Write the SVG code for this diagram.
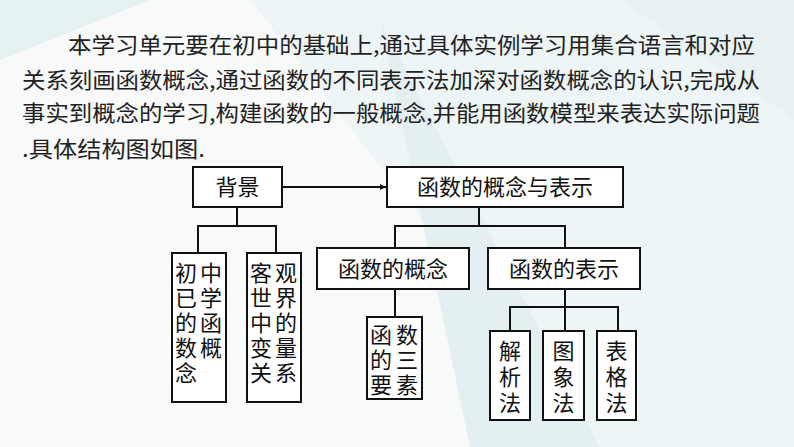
<svg xmlns="http://www.w3.org/2000/svg" width="794" height="447" viewBox="0 0 794 447">
<defs>
<style>
.p{font-family:"Noto Sans CJK SC",sans-serif;font-size:22px;fill:#222}
.t{font-family:"Noto Sans CJK SC",sans-serif;font-size:22px;fill:#111;text-anchor:middle}
.b{fill:#fff;stroke:#111;stroke-width:2}
.l{stroke:#111;stroke-width:2;fill:none}
</style>
<marker id="ah" viewBox="0 0 10 10" refX="10" refY="5" markerWidth="8" markerHeight="6" orient="auto" markerUnits="userSpaceOnUse"><path d="M0,0L10,5L0,10z" fill="#111"/></marker>
</defs>
<rect width="794" height="447" fill="#f8fafa"/>
<polygon points="0,0 150,0 0,60" fill="#e6f1f2"/>
<polygon points="250,0 794,0 794,447 600,447" fill="#eef5f6"/>
<polygon points="380,20 470,447 600,447" fill="#e3eff1"/>
<polygon points="620,0 794,120 794,0" fill="#e8f2f3"/>
<g id="para">
<text class="p" x="68" y="53" textLength="687" lengthAdjust="spacingAndGlyphs">本学习单元要在初中的基础上,通过具体实例学习用集合语言和对应</text>
<text class="p" x="22" y="88" textLength="738" lengthAdjust="spacingAndGlyphs">关系刻画函数概念,通过函数的不同表示法加深对函数概念的认识,完成从</text>
<text class="p" x="22" y="121" textLength="738" lengthAdjust="spacingAndGlyphs">事实到概念的学习,构建函数的一般概念,并能用函数模型来表达实际问题</text>
<text class="p" x="22" y="157" textLength="183" lengthAdjust="spacingAndGlyphs">.具体结构图如图.</text>
</g>
<g id="connectors">
<line class="l" x1="282" y1="187" x2="386" y2="187" marker-end="url(#ah)"/>
<path class="l" d="M237,207V226M198,253V226H276V253"/>
<path class="l" d="M479,207V226M395,248V226H565V248"/>
<path class="l" d="M395,289V317"/>
<path class="l" d="M565,289V307M510,331V307H618V331M565,307V331"/>
</g>
<g id="bj"><rect class="b" x="193" y="167" width="89" height="40"/><text class="t" x="237.5" y="195">背景</text></g>
<g id="hs"><rect class="b" x="387" y="167" width="236" height="40"/><text class="t" x="505" y="195">函数的概念与表示</text></g>
<g id="cz"><rect class="b" x="172" y="253" width="54" height="149"/>
<text class="t" x="186" y="281">初</text><text class="t" x="186" y="306">已</text><text class="t" x="186" y="331">的</text><text class="t" x="186" y="356">数</text><text class="t" x="186" y="381">念</text>
<text class="t" x="211" y="281">中</text><text class="t" x="211" y="306">学</text><text class="t" x="211" y="331">函</text><text class="t" x="211" y="356">概</text></g>
<g id="kg"><rect class="b" x="247" y="253" width="54" height="149"/>
<text class="t" x="261" y="281">客</text><text class="t" x="261" y="306">世</text><text class="t" x="261" y="331">中</text><text class="t" x="261" y="356">变</text><text class="t" x="261" y="381">关</text>
<text class="t" x="286" y="281">观</text><text class="t" x="286" y="306">界</text><text class="t" x="286" y="331">的</text><text class="t" x="286" y="356">量</text><text class="t" x="286" y="381">系</text></g>
<g id="gn"><rect class="b" x="317" y="248" width="152" height="41"/><text class="t" x="393" y="277">函数的概念</text></g>
<g id="bs"><rect class="b" x="488" y="248" width="152" height="41"/><text class="t" x="564" y="277">函数的表示</text></g>
<g id="sys"><rect class="b" x="367" y="317" width="55" height="82"/>
<text class="t" x="381" y="343">函</text><text class="t" x="381" y="368">的</text><text class="t" x="381" y="393">要</text>
<text class="t" x="407" y="343">数</text><text class="t" x="407" y="368">三</text><text class="t" x="407" y="393">素</text></g>
<g id="jx"><rect class="b" x="490" y="331" width="40" height="89"/><text class="t" x="510" y="359">解</text><text class="t" x="510" y="385">析</text><text class="t" x="510" y="411">法</text></g>
<g id="tx"><rect class="b" x="543" y="331" width="41" height="89"/><text class="t" x="563.5" y="359">图</text><text class="t" x="563.5" y="385">象</text><text class="t" x="563.5" y="411">法</text></g>
<g id="bg"><rect class="b" x="597" y="331" width="39" height="89"/><text class="t" x="616.5" y="359">表</text><text class="t" x="616.5" y="385">格</text><text class="t" x="616.5" y="411">法</text></g>
</svg>
